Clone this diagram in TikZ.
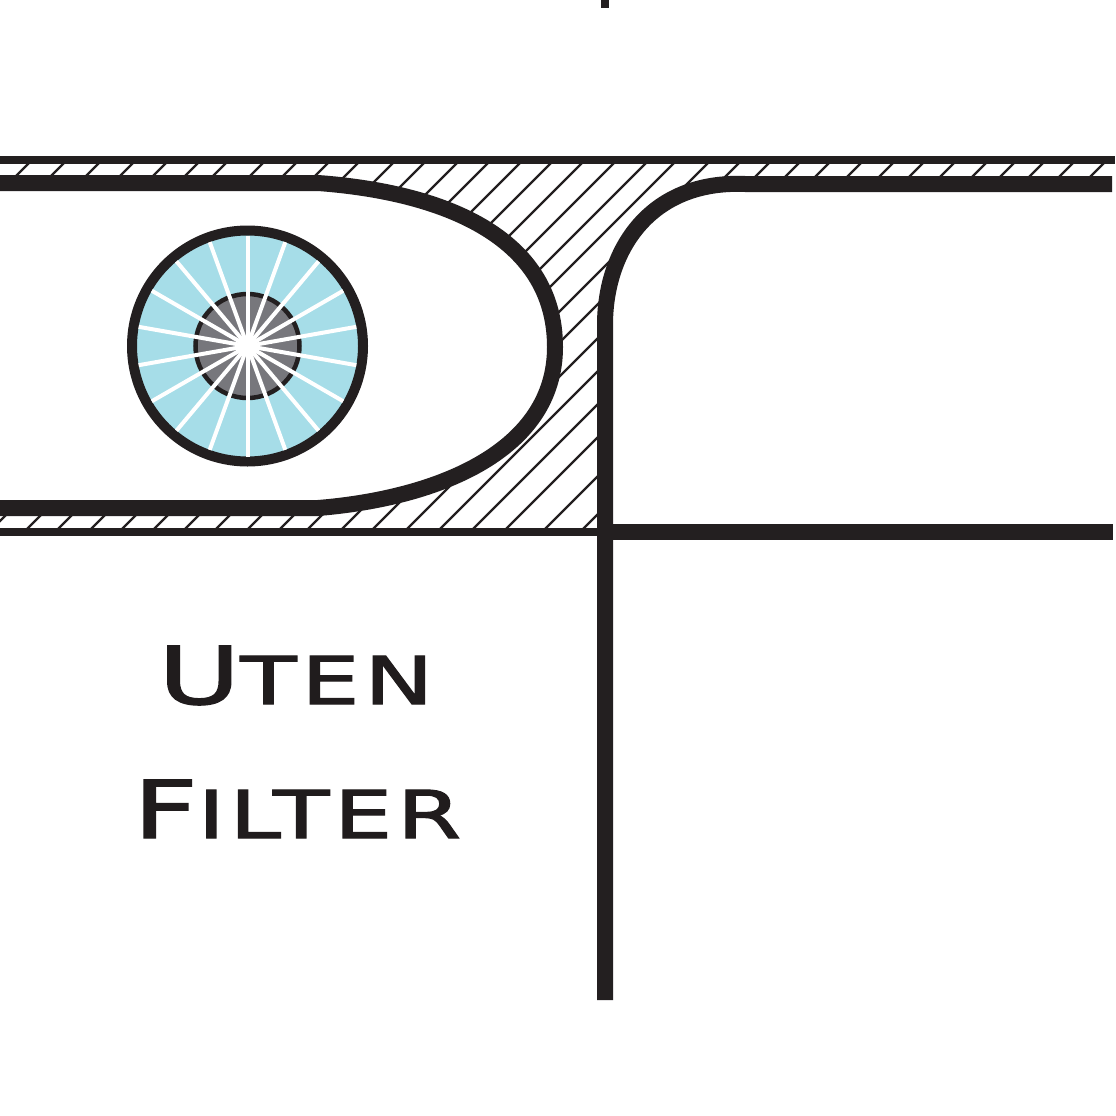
\documentclass[tikz,border=0pt]{standalone}
\usepackage{fontspec}
\setmainfont{DejaVu Sans}
\newfontfamily\lettering[FakeBold=1.6,LetterSpace=5]{DejaVu Sans}
\definecolor{ink}{HTML}{231F20}
\definecolor{rimfill}{HTML}{A6DDE8}
\definecolor{hubfill}{HTML}{77777C}
\tikzset{
  wall/.style={draw=ink,line width=8pt},
  heavy/.style={draw=ink,line width=16pt},
  hatchline/.style={draw=ink,line width=2.4pt},
  spoke/.style={draw=white,line width=4pt},
  label/.style={inner sep=0pt,anchor=base west,text=ink!90!black,font=\lettering}
}
\begin{document}
\begin{tikzpicture}[x=1pt,y=-1pt]
\useasboundingbox (0,0) rectangle (1116,1116);
\fill[white] (0,0) rectangle (1116,1116);
% hatching: the family that crosses the whole wall
\begin{scope}
\clip (0,160) rectangle (1116,531);
\foreach \s in {192,227,262,296,329,361,389,426,459,491,521,556,587,620,651,683,714,745,777,809,837,871,902}
  \draw[hatchline] (\s-160,160) -- (\s-531,531);
\end{scope}
% hatching: wall strip above the right-hand chamber
\begin{scope}
\clip (0,160) rectangle (1116,190);
\foreach \s in {932,962,992,1024,1056,1086,1117,1149,1177,1206,1236,1267}
  \draw[hatchline] (\s-160,160) -- (\s-190,190);
\end{scope}
% hatching: block beside the vertical wall
\begin{scope}
\clip (400,240) rectangle (605,531);
\foreach \s in {936,969,1002,1035,1074,1112}
  \draw[hatchline] (\s-240,240) -- (\s-531,531);
\end{scope}
% white interiors
\fill[white] (0,183) -- (318,183) .. controls (440,192) and (555,235) .. (555,347)
  .. controls (555,450) and (440,498) .. (318,508) -- (0,508) -- cycle;
\fill[white] (605,325) .. controls (605,250) and (650,180) .. (745,184)
  -- (1116,184) -- (1116,532) -- (605,532) -- cycle;
% walls
\draw[wall] (0,160) -- (1115,160);
\draw[wall] (0,532) -- (600,532);
\draw[heavy] (0,183) -- (318,183) .. controls (440,192) and (555,235) .. (555,347)
  .. controls (555,450) and (440,498) .. (318,508) -- (0,508);
\draw[heavy] (605,1000) -- (605,325) .. controls (605,250) and (650,180) .. (745,184) -- (1112,184);
\draw[heavy] (605,532) -- (1113,532);
\draw[draw=ink,line width=8pt] (605,0) -- (605,8);
% roller
\coordinate (c) at (247.5,346);
\draw[draw=ink,line width=10pt,fill=rimfill] (c) circle[radius=115.5pt];
\draw[draw=ink,line width=4.5pt,fill=hubfill] (c) circle[radius=52pt];
\foreach \a in {10,30,...,170}
  \draw[spoke] ([shift={(\a:110.5pt)}]c) -- ([shift={(\a+180:110.5pt)}]c);
% labels
\node[label,xscale=1.4,transform shape] (uten) at (158,704)
  {\fontsize{80}{80}\selectfont U\fontsize{66}{66}\selectfont TEN};
\node[label,xscale=1.4,transform shape] (filter) at (133,838)
  {\fontsize{80}{80}\selectfont F\fontsize{66}{66}\selectfont ILTER};
\end{tikzpicture}
\end{document}
